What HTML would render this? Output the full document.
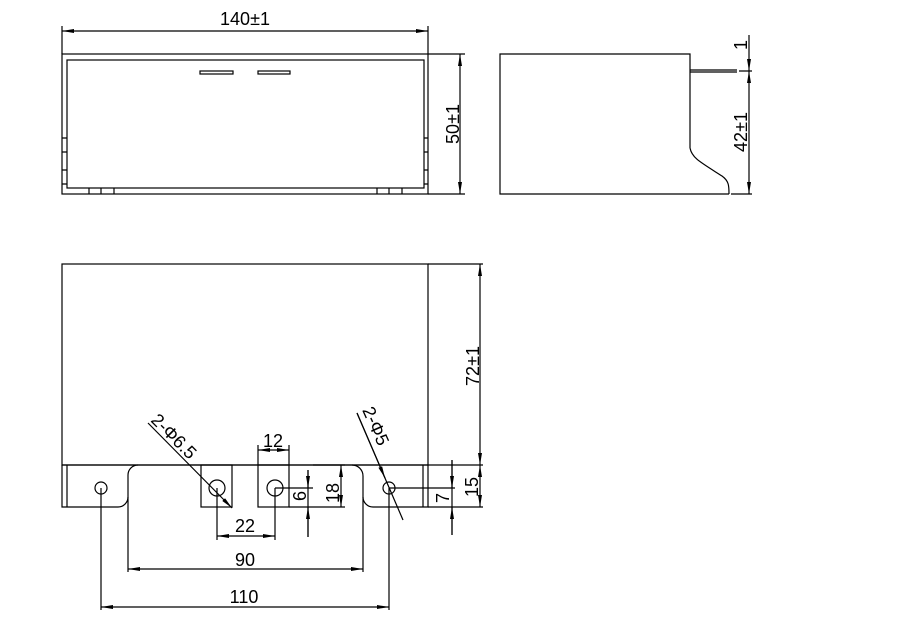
<!DOCTYPE html>
<html><head><meta charset="utf-8"><style>body{margin:0;background:#fff}svg{display:block}text{font-family:"Liberation Sans",sans-serif;font-size:18px;fill:#000}</style></head><body>
<svg width="900" height="633" viewBox="0 0 900 633" xmlns="http://www.w3.org/2000/svg">
<defs><marker id="a" viewBox="0 0 12 4" refX="12" refY="2" markerWidth="12" markerHeight="4" markerUnits="userSpaceOnUse" orient="auto-start-reverse"><path d="M0,0 L12,2 L0,4z" fill="#000"/></marker></defs>
<g fill="none" stroke="#000" stroke-width="1.2">
<rect x="62" y="54" width="366" height="140"/>
<rect x="67" y="60" width="357" height="128"/>
<rect x="200" y="71" width="33" height="3"/><rect x="258" y="71" width="32" height="3"/>
<path d="M62 138H67M62 152H67M62 170H67M62 184H67M424 138H428M424 152H428M424 170H428M424 184H428"/>
<path d="M89 188V194M101 188V194M114 188V194M377 188V194M389 188V194M402 188V194"/>
<path d="M62 26V54M428 26V54M428 54H465M428 194H465"/>
<line x1="62" y1="31" x2="428" y2="31" marker-start="url(#a)" marker-end="url(#a)"/>
<line x1="460" y1="54" x2="460" y2="194" marker-start="url(#a)" marker-end="url(#a)"/>
<path d="M690 148V54H500V194H729M690 148C692 158 700 162 722 176C729 181 729 186 729 194"/>
<path d="M690 70H737M690 72H737M739 71H752M731 194H752"/>
<line x1="749" y1="35" x2="749" y2="71" marker-end="url(#a)"/>
<line x1="749" y1="71" x2="749" y2="194" marker-start="url(#a)" marker-end="url(#a)"/>
<rect x="62" y="264" width="366" height="201"/>
<path d="M62 465V507H118A10 10 0 0 0 128 497V475A10 10 0 0 1 138 465"/>
<path d="M352 465A11 11 0 0 1 363 476V497A10 10 0 0 0 373 507H428V465M67 465V507M423 465V507"/>
<path d="M62 465H428"/>
<rect x="201" y="465" width="31" height="42"/><rect x="258" y="465" width="31" height="42"/>
<circle cx="101" cy="488" r="6"/><circle cx="217" cy="488" r="8"/><circle cx="275" cy="488" r="8"/><circle cx="389" cy="488" r="6"/>
<path d="M217 488V540M275 488V540M258 465V445M289 465V445M275 488H313M289 507H345M313 465H345M101 488V610M389 488V610M128 497V572M363 497V572M389 488H455M428 507H483M428 264H483M428 465H483"/>
<line x1="217" y1="536" x2="275" y2="536" marker-start="url(#a)" marker-end="url(#a)"/>
<line x1="128" y1="569" x2="363" y2="569" marker-start="url(#a)" marker-end="url(#a)"/>
<line x1="101" y1="607" x2="389" y2="607" marker-start="url(#a)" marker-end="url(#a)"/>
<line x1="258" y1="450" x2="289" y2="450" marker-start="url(#a)" marker-end="url(#a)"/>
<path d="M308 470V537"/>
<line x1="308" y1="470" x2="308" y2="488" marker-end="url(#a)"/>
<line x1="308" y1="537" x2="308" y2="507" marker-end="url(#a)"/>
<line x1="341" y1="465" x2="341" y2="507" marker-start="url(#a)" marker-end="url(#a)"/>
<path d="M452 460V535"/>
<line x1="452" y1="460" x2="452" y2="488" marker-end="url(#a)"/>
<line x1="452" y1="535" x2="452" y2="507" marker-end="url(#a)"/>
<line x1="480" y1="264" x2="480" y2="465" marker-start="url(#a)" marker-end="url(#a)"/>
<line x1="480" y1="465" x2="480" y2="507" marker-start="url(#a)" marker-end="url(#a)"/>
<line x1="148" y1="423" x2="232" y2="508" marker-end="url(#a)"/>
<line x1="357" y1="413" x2="403" y2="520"/>
<line x1="357" y1="413" x2="385" y2="478" marker-end="url(#a)"/>
</g>
<text x="245" y="25" text-anchor="middle">140±1</text>
<text transform="translate(459,124) rotate(-90)" text-anchor="middle">50±1</text>
<text transform="translate(747,45) rotate(-90)" text-anchor="middle">1</text>
<text transform="translate(747,132) rotate(-90)" text-anchor="middle">42±1</text>
<text transform="translate(479,366) rotate(-90)" text-anchor="middle">72±1</text>
<text x="273" y="447" text-anchor="middle">12</text>
<text x="245" y="532" text-anchor="middle">22</text>
<text x="245" y="566" text-anchor="middle">90</text>
<text x="244" y="603" text-anchor="middle">110</text>
<text transform="translate(306,496) rotate(-90)" text-anchor="middle">6</text>
<text transform="translate(339,493) rotate(-90)" text-anchor="middle">18</text>
<text transform="translate(449,498) rotate(-90)" text-anchor="middle">7</text>
<text transform="translate(478,487) rotate(-90)" text-anchor="middle">15</text>
<text transform="translate(150,421) rotate(45)">2-Φ6.5</text>
<text transform="translate(362,410) rotate(66)">2-Φ5</text>
</svg>
</body></html>
